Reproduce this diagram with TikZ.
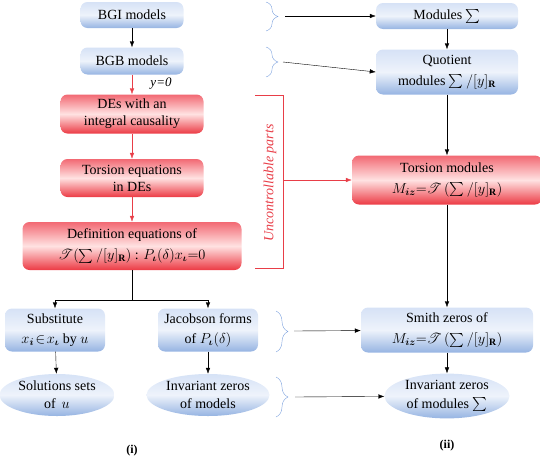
\documentclass[tikz,border=0pt]{standalone}
\usepackage{amsmath,amssymb,mathrsfs,bm}
\usepackage{fontspec}
\setmainfont{Liberation Serif}
\usepackage{tikz}
\usetikzlibrary{arrows.meta}
\usetikzlibrary{shapes.geometric}
\usetikzlibrary{decorations.pathreplacing}
\usetikzlibrary{calc}

\definecolor{blueTop}{RGB}{214,226,246}
\definecolor{blueMid}{RGB}{238,243,251}
\definecolor{blueBot}{RGB}{150,180,226}
\definecolor{redTop}{RGB}{242,105,115}
\definecolor{redMid}{RGB}{255,226,226}
\definecolor{redBot}{RGB}{236,58,68}
\definecolor{braceBlue}{RGB}{125,162,222}
\definecolor{ucRed}{RGB}{232,62,72}

\tikzset{
  txt/.style={font=\rmfamily\fontsize{14}{17}\selectfont, align=center, inner sep=1pt},
  bluebox/.style={txt, rectangle, rounded corners=7pt,
    top color=blueTop, bottom color=blueBot, middle color=blueMid},
  redbox/.style={txt, rectangle, rounded corners=7pt,
    top color=redTop, bottom color=redBot, middle color=redMid},
  blueoval/.style={txt, ellipse, inner sep=0pt,
    top color=blueTop, bottom color=blueBot, middle color=blueMid},
  arr/.style={-{Latex[length=6pt,width=4.5pt]}},
  bluebrace/.style={draw=braceBlue, decorate,
    decoration={brace, amplitude=12pt, aspect=0.5}},
}

\begin{document}
\begin{tikzpicture}[x=1pt, y=-1pt]
    \useasboundingbox (0,0) rectangle (540,458);

    % left column (i)
    \node[bluebox, minimum width=103pt, minimum height=26pt] (bgi) at (132,15) {BGI models};
    \node[bluebox, minimum width=103pt, minimum height=27pt] (bgb) at (132,61) {BGB models};
    \node[redbox, minimum width=143pt, minimum height=39pt] (des) at (132,114)
        {DEs with an\\integral causality};
    \node[redbox, minimum width=143pt, minimum height=38pt] (toreq) at (132,178)
        {Torsion equations\\in DEs};
    \node[redbox, minimum width=219pt, minimum height=48pt] (defeq) at (132,246)
        {Definition equations of\\[4pt]
         $\mathscr{T}(\textstyle\sum/[y]_{\mathbf{R}})$ : $P_{\bm{\iota}}(\delta)x_{\bm{\iota}}{=}0$};
    \node[bluebox, minimum width=100pt, minimum height=43pt] (subst) at (55,330)
        {Substitute\\[3pt]$x_{\bm{i}}\!\in\! x_{\bm{\iota}}$ by $u$};
    \node[bluebox, minimum width=100pt, minimum height=43pt] (jacob) at (208,330)
        {Jacobson forms\\[3pt]of $P_{\bm{\iota}}(\delta)$};
    \node[blueoval, minimum width=115pt, minimum height=42pt] (sols) at (57,395)
        {Solutions sets\\[1pt]of\, $u$};
    \node[blueoval, minimum width=123pt, minimum height=42pt] (invm) at (208,395)
        {Invariant zeros\\[1pt]of models};
    \node[txt, font=\rmfamily\bfseries\fontsize{12}{14}\selectfont] (capi) at (132,451) {(i)};

    % right column (ii)
    \node[bluebox, minimum width=142pt, minimum height=26pt] (mods) at (447,16)
        {Modules $\textstyle\sum$};
    \node[bluebox, minimum width=142pt, minimum height=45pt] (quot) at (447,72)
        {Quotient\\[4pt]modules $\textstyle\sum/[y]_{\mathbf{R}}$};
    \node[redbox, minimum width=190pt, minimum height=49pt] (torm) at (447,180)
        {Torsion modules\\[4pt]$M_{\bm{iz}}{=}\mathscr{T}\,(\textstyle\sum/[y]_{\mathbf{R}})$};
    \node[bluebox, minimum width=172pt, minimum height=45pt] (smith) at (447,330)
        {Smith zeros of\\[4pt]$M_{\bm{iz}}{=}\mathscr{T}\,(\textstyle\sum/[y]_{\mathbf{R}})$};
    \node[blueoval, minimum width=125pt, minimum height=38pt] (invz) at (447,396)
        {Invariant zeros\\[2pt]of modules $\textstyle\sum$};
    \node[txt, font=\rmfamily\bfseries\fontsize{12}{14}\selectfont] (capii) at (447,446) {(ii)};

    % left arrows
    \draw[arr] (bgi) -- (bgb);
    \draw[arr, ucRed] (bgb) -- (des);
    \node[txt, font=\rmfamily\itshape\fontsize{13}{15}\selectfont] (yzero) at (161,84) {y=0};
    \draw[arr, ucRed] (des) -- (toreq);
    \draw[arr, ucRed] (toreq) -- (defeq);
    \coordinate (fork) at (132,300);
    \draw (defeq) -- (fork);
    \draw[arr] (fork) -| (subst);
    \draw[arr] (fork) -| (jacob);
    \draw[arr] (subst) -- (sols);
    \draw[arr] (jacob) -- (invm);

    % right arrows
    \draw[arr] (mods) -- (quot);
    \draw[arr] (quot) -- (torm);
    \draw[arr] (torm) -- (smith);
    \draw[arr] (smith) -- (invz);

    % braces
    \draw[bluebrace] (266,2) -- (266,31);
    \draw[bluebrace] (266,47) -- (266,77);
    \draw[bluebrace] (276,311) -- (276,352);
    \draw[bluebrace] (276,377) -- (276,417);
    \coordinate (b1) at (285,16);
    \coordinate (b2) at (283,62);
    \coordinate (b3) at (294,331);
    \coordinate (b4) at (295,397);
    \draw[arr] (b1) -- (mods);
    \draw[arr] (b2) -- (quot.west);
    \draw[arr] (b3) -- (smith);
    \draw[arr] (b4) -- (invz);

    % uncontrollable parts
    \draw[ucRed] (255,95) -| (283,268) -- (255,268);
    \node[txt, ucRed, rotate=90, font=\rmfamily\itshape\fontsize{14}{17}\selectfont] (uncl) at (270,183)
        {Uncontrollable parts};
    \coordinate (uc) at (283,180);
    \draw[arr, ucRed] (uc) -- (torm);
\end{tikzpicture}
\end{document}
